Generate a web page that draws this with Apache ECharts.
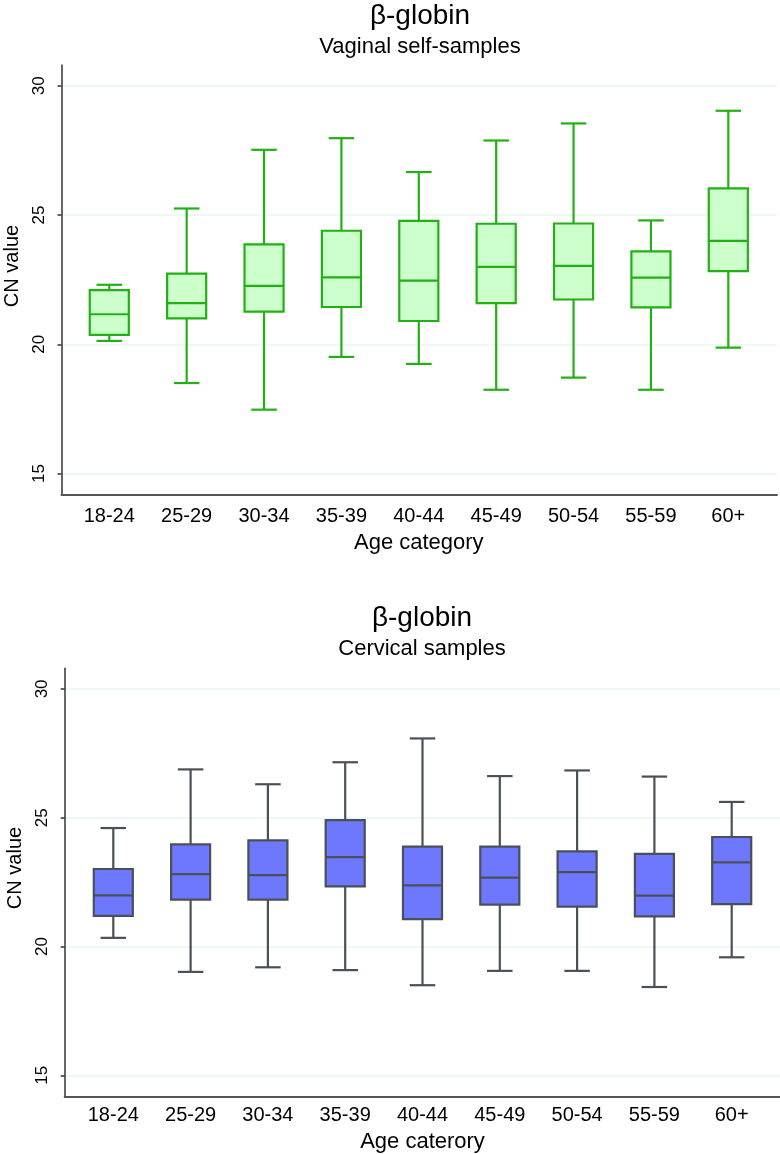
<!DOCTYPE html>
<html>
<head>
<meta charset="utf-8">
<script src="https://cdn.jsdelivr.net/npm/echarts@6/dist/echarts.min.js"></script>
<style>
html,body{margin:0;padding:0;background:#fff;}
#chart{width:780px;height:1154px;}
</style>
</head>
<body>
<div id="chart"></div>
<script>
const categories = ['18-24','25-29','30-34','35-39','40-44','45-49','50-54','55-59','60+'];
const yTicks = [15, 20, 25, 30];

const vaginalLow    = [20.13, 18.50, 17.47, 19.51, 19.24, 18.24, 18.71, 18.24, 19.87];
const vaginalQ1     = [20.36, 21.00, 21.26, 21.44, 20.90, 21.59, 21.73, 21.43, 22.83];
const vaginalMedian = [21.16, 21.59, 22.26, 22.59, 22.46, 22.99, 23.03, 22.58, 24.00];
const vaginalQ3     = [22.09, 22.73, 23.86, 24.39, 24.77, 24.66, 24.67, 23.59, 26.03];
const vaginalHigh   = [22.30, 25.25, 27.52, 27.97, 26.66, 27.88, 28.54, 24.79, 29.03];

const cervicalLow    = [20.27, 18.94, 19.12, 19.01, 18.42, 18.98, 18.98, 18.35, 19.51];
const cervicalQ1     = [21.13, 21.76, 21.76, 22.28, 21.00, 21.57, 21.49, 21.11, 21.59];
const cervicalMedian = [21.93, 22.76, 22.72, 23.42, 22.32, 22.62, 22.84, 21.92, 23.22];
const cervicalQ3     = [22.96, 23.92, 24.08, 24.87, 23.83, 23.83, 23.65, 23.55, 24.21];
const cervicalHigh   = [24.56, 26.85, 26.27, 27.13, 28.06, 26.59, 26.81, 26.57, 25.58];

const Y_MIN = 14.17, Y_MAX = 30.8;
const FONT = 'Liberation Sans, Arial, sans-serif';

function buildData(low, q1, med, q3, high) {
  return categories.map((c, i) => [c, low[i], q1[i], med[i], q3[i], high[i]]);
}

function renderBox(fill, stroke) {
  return function (params, api) {
    const x = api.value(0);
    const pLow = api.coord([x, api.value(1)]);
    const pQ1 = api.coord([x, api.value(2)]);
    const pMed = api.coord([x, api.value(3)]);
    const pQ3 = api.coord([x, api.value(4)]);
    const pHigh = api.coord([x, api.value(5)]);
    const band = api.size([1, 0])[0];
    const bw = band * 0.505, cw = band * 0.33;
    const cx = pMed[0];
    const ls = {stroke: stroke, lineWidth: 2.2, fill: null};
    return {type: 'group', children: [
      {type: 'line', shape: {x1: cx, y1: pHigh[1], x2: cx, y2: pQ3[1]}, style: ls},
      {type: 'line', shape: {x1: cx, y1: pQ1[1], x2: cx, y2: pLow[1]}, style: ls},
      {type: 'line', shape: {x1: cx - cw / 2, y1: pHigh[1], x2: cx + cw / 2, y2: pHigh[1]}, style: ls},
      {type: 'line', shape: {x1: cx - cw / 2, y1: pLow[1], x2: cx + cw / 2, y2: pLow[1]}, style: ls},
      {type: 'rect', shape: {x: cx - bw / 2, y: pQ3[1], width: bw, height: pQ1[1] - pQ3[1]},
        style: {fill: fill, stroke: stroke, lineWidth: 2.2}},
      {type: 'line', shape: {x1: cx - bw / 2, y1: pMed[1], x2: cx + bw / 2, y2: pMed[1]}, style: ls}
    ]};
  };
}

function frameX(gi) {
  return {type: 'value', gridIndex: gi, min: 0, max: 1,
    axisLine: {show: true, onZero: false, lineStyle: {color: '#555', width: 2}},
    axisTick: {show: false}, axisLabel: {show: false}, splitLine: {show: false}};
}
function dataX(gi, name) {
  return {type: 'category', gridIndex: gi, data: categories,
    axisLine: {show: false}, axisTick: {show: false},
    axisLabel: {fontSize: 20, color: '#000', margin: 11, fontFamily: FONT},
    name: name, nameLocation: 'middle', nameGap: 37,
    nameTextStyle: {fontSize: 22, color: '#000', fontFamily: FONT}};
}
function frameY(gi) {
  return {type: 'value', gridIndex: gi, min: Y_MIN, max: Y_MAX,
    axisLine: {show: true, lineStyle: {color: '#333', width: 1.5}},
    axisTick: {show: true, length: 4, customValues: yTicks, lineStyle: {color: '#333', width: 1.5}},
    axisLabel: {customValues: yTicks, rotate: 90, fontSize: 17, margin: 14, color: '#000', fontFamily: FONT},
    splitLine: {show: true, lineStyle: {color: '#e8f6f1', width: 1.5}}};
}
function dataY(gi) {
  return {type: 'value', gridIndex: gi, min: Y_MIN, max: Y_MAX, show: false, splitLine: {show: false}};
}

function label(text, x, y, size, rot) {
  return {type: 'text', x: x, y: y, rotation: rot || 0,
    style: {text: text, fontSize: size, fontFamily: FONT, fill: '#000', align: 'center', verticalAlign: 'middle'}};
}

const option = {
  backgroundColor: '#fff',
  animation: false,
  graphic: [
    label('β-globin', 420, 16, 28),
    label('Vaginal self-samples', 420, 47, 22),
    label('CN value', 12, 266, 20, Math.PI / 2),
    label('β-globin', 422, 618, 28),
    label('Cervical samples', 422, 649, 22),
    label('CN value', 15, 868, 20, Math.PI / 2)
  ],
  grid: [
    {left: 61.5, top: 65, width: 715.5, height: 430},
    {left: 70.6, top: 65, width: 696.4, height: 430},
    {left: 64.7, top: 668.3, width: 715.3, height: 428.4},
    {left: 74.65, top: 668.3, width: 695.7, height: 428.4}
  ],
  xAxis: [frameX(0), dataX(1, 'Age category'), frameX(2), dataX(3, 'Age caterory')],
  yAxis: [frameY(0), dataY(1), frameY(2), dataY(3)],
  series: [
    {type: 'custom', xAxisIndex: 1, yAxisIndex: 1,
      renderItem: renderBox('#ccffcc', '#22b014'),
      encode: {x: 0, y: [1, 2, 3, 4, 5]},
      data: buildData(vaginalLow, vaginalQ1, vaginalMedian, vaginalQ3, vaginalHigh)},
    {type: 'custom', xAxisIndex: 3, yAxisIndex: 3,
      renderItem: renderBox('#6e78ff', '#4a5057'),
      encode: {x: 0, y: [1, 2, 3, 4, 5]},
      data: buildData(cervicalLow, cervicalQ1, cervicalMedian, cervicalQ3, cervicalHigh)}
  ]
};

const chart = echarts.init(document.getElementById('chart'), null, {renderer: 'canvas'});
chart.setOption(option);
</script>
</body>
</html>
